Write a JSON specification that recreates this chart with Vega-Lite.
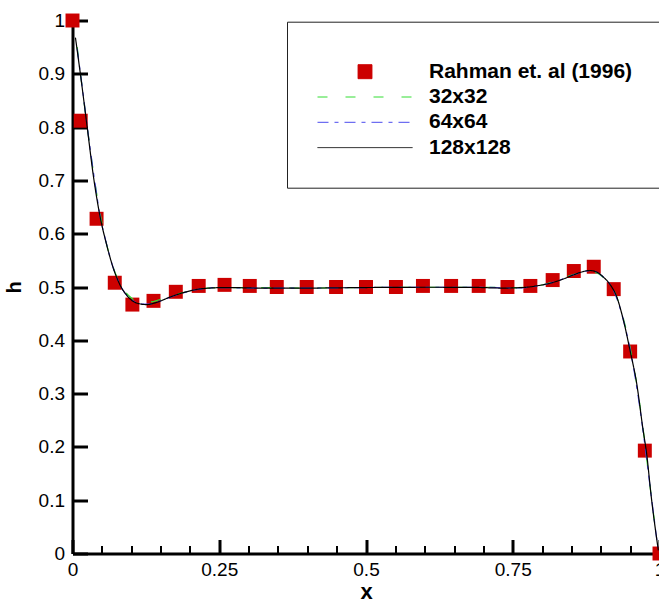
{
  "$schema": "https://vega.github.io/schema/vega-lite/v6.json",
  "width": 587,
  "height": 533,
  "autosize": {"type": "none"},
  "padding": {"left": 72.5, "top": 20.5, "right": 0, "bottom": 46.5},
  "background": "white",
  "config": {
    "view": {"stroke": null},
    "font": "Liberation Sans",
    "axis": {
      "grid": false,
      "domainColor": "black",
      "domainWidth": 3,
      "tickColor": "black",
      "labelFont": "Liberation Sans",
      "labelFontSize": 19,
      "labelColor": "black",
      "titleFont": "Liberation Sans",
      "titleFontWeight": "bold",
      "titleColor": "black"
    },
    "legend": {
      "titleFontSize": 8,
      "titlePadding": 2,
      "padding": 30,
      "strokeColor": "#222222",
      "fillColor": "white",
      "symbolSize": 9025,
      "symbolStrokeWidth": 1,
      "symbolOpacity": 1,
      "symbolOffset": 0,
      "clipHeight": 20,
      "rowPadding": 4.3,
      "labelOffset": 16,
      "labelFont": "Liberation Sans",
      "labelFontSize": 21,
      "labelFontWeight": "bold",
      "labelColor": "black",
      "labelLimit": 400
    }
  },
  "data": {
    "values": [
      {"series": "Rahman et. al (1996)", "x": 0.0, "h": 1.0},
      {"series": "Rahman et. al (1996)", "x": 0.014, "h": 0.812},
      {"series": "Rahman et. al (1996)", "x": 0.041, "h": 0.628},
      {"series": "Rahman et. al (1996)", "x": 0.072, "h": 0.508},
      {"series": "Rahman et. al (1996)", "x": 0.102, "h": 0.467},
      {"series": "Rahman et. al (1996)", "x": 0.138, "h": 0.474},
      {"series": "Rahman et. al (1996)", "x": 0.176, "h": 0.491},
      {"series": "Rahman et. al (1996)", "x": 0.215, "h": 0.502},
      {"series": "Rahman et. al (1996)", "x": 0.259, "h": 0.504},
      {"series": "Rahman et. al (1996)", "x": 0.302, "h": 0.502},
      {"series": "Rahman et. al (1996)", "x": 0.348, "h": 0.5},
      {"series": "Rahman et. al (1996)", "x": 0.399, "h": 0.5},
      {"series": "Rahman et. al (1996)", "x": 0.449, "h": 0.5},
      {"series": "Rahman et. al (1996)", "x": 0.5, "h": 0.5},
      {"series": "Rahman et. al (1996)", "x": 0.551, "h": 0.5},
      {"series": "Rahman et. al (1996)", "x": 0.597, "h": 0.502},
      {"series": "Rahman et. al (1996)", "x": 0.645, "h": 0.502},
      {"series": "Rahman et. al (1996)", "x": 0.692, "h": 0.502},
      {"series": "Rahman et. al (1996)", "x": 0.741, "h": 0.5},
      {"series": "Rahman et. al (1996)", "x": 0.78, "h": 0.502},
      {"series": "Rahman et. al (1996)", "x": 0.818, "h": 0.513},
      {"series": "Rahman et. al (1996)", "x": 0.854, "h": 0.53},
      {"series": "Rahman et. al (1996)", "x": 0.888, "h": 0.538},
      {"series": "Rahman et. al (1996)", "x": 0.922, "h": 0.496},
      {"series": "Rahman et. al (1996)", "x": 0.95, "h": 0.379},
      {"series": "Rahman et. al (1996)", "x": 0.975, "h": 0.193},
      {"series": "Rahman et. al (1996)", "x": 1.0, "h": 0.0},

      {"series": "32x32", "x": 0.008, "h": 0.95},
      {"series": "32x32", "x": 0.024, "h": 0.81},
      {"series": "32x32", "x": 0.039, "h": 0.69},
      {"series": "32x32", "x": 0.055, "h": 0.595},
      {"series": "32x32", "x": 0.07, "h": 0.535},
      {"series": "32x32", "x": 0.086, "h": 0.497},
      {"series": "32x32", "x": 0.102, "h": 0.478},
      {"series": "32x32", "x": 0.117, "h": 0.472},
      {"series": "32x32", "x": 0.133, "h": 0.472},
      {"series": "32x32", "x": 0.148, "h": 0.476},
      {"series": "32x32", "x": 0.18, "h": 0.487},
      {"series": "32x32", "x": 0.211, "h": 0.495},
      {"series": "32x32", "x": 0.25, "h": 0.499},
      {"series": "32x32", "x": 0.3, "h": 0.499},
      {"series": "32x32", "x": 0.4, "h": 0.498},
      {"series": "32x32", "x": 0.5, "h": 0.499},
      {"series": "32x32", "x": 0.6, "h": 0.4995},
      {"series": "32x32", "x": 0.7, "h": 0.4995},
      {"series": "32x32", "x": 0.75, "h": 0.499},
      {"series": "32x32", "x": 0.78, "h": 0.5},
      {"series": "32x32", "x": 0.797, "h": 0.503},
      {"series": "32x32", "x": 0.813, "h": 0.508},
      {"series": "32x32", "x": 0.828, "h": 0.514},
      {"series": "32x32", "x": 0.844, "h": 0.52},
      {"series": "32x32", "x": 0.86, "h": 0.525},
      {"series": "32x32", "x": 0.875, "h": 0.528},
      {"series": "32x32", "x": 0.891, "h": 0.527},
      {"series": "32x32", "x": 0.906, "h": 0.516},
      {"series": "32x32", "x": 0.922, "h": 0.495},
      {"series": "32x32", "x": 0.938, "h": 0.443},
      {"series": "32x32", "x": 0.953, "h": 0.37},
      {"series": "32x32", "x": 0.969, "h": 0.26},
      {"series": "32x32", "x": 0.984, "h": 0.125},
      {"series": "32x32", "x": 0.995, "h": 0.03},

      {"series": "64x64", "x": 0.008, "h": 0.947},
      {"series": "64x64", "x": 0.016, "h": 0.88},
      {"series": "64x64", "x": 0.03, "h": 0.76},
      {"series": "64x64", "x": 0.039, "h": 0.69},
      {"series": "64x64", "x": 0.047, "h": 0.633},
      {"series": "64x64", "x": 0.055, "h": 0.594},
      {"series": "64x64", "x": 0.07, "h": 0.534},
      {"series": "64x64", "x": 0.086, "h": 0.494},
      {"series": "64x64", "x": 0.101, "h": 0.476},
      {"series": "64x64", "x": 0.117, "h": 0.468},
      {"series": "64x64", "x": 0.133, "h": 0.468},
      {"series": "64x64", "x": 0.148, "h": 0.473},
      {"series": "64x64", "x": 0.18, "h": 0.486},
      {"series": "64x64", "x": 0.211, "h": 0.495},
      {"series": "64x64", "x": 0.25, "h": 0.499},
      {"series": "64x64", "x": 0.3, "h": 0.498},
      {"series": "64x64", "x": 0.4, "h": 0.498},
      {"series": "64x64", "x": 0.5, "h": 0.499},
      {"series": "64x64", "x": 0.6, "h": 0.4995},
      {"series": "64x64", "x": 0.7, "h": 0.4994},
      {"series": "64x64", "x": 0.75, "h": 0.498},
      {"series": "64x64", "x": 0.78, "h": 0.4998},
      {"series": "64x64", "x": 0.797, "h": 0.503},
      {"series": "64x64", "x": 0.813, "h": 0.507},
      {"series": "64x64", "x": 0.828, "h": 0.512},
      {"series": "64x64", "x": 0.844, "h": 0.519},
      {"series": "64x64", "x": 0.86, "h": 0.525},
      {"series": "64x64", "x": 0.875, "h": 0.53},
      {"series": "64x64", "x": 0.883, "h": 0.531},
      {"series": "64x64", "x": 0.891, "h": 0.529},
      {"series": "64x64", "x": 0.906, "h": 0.517},
      {"series": "64x64", "x": 0.922, "h": 0.493},
      {"series": "64x64", "x": 0.938, "h": 0.44},
      {"series": "64x64", "x": 0.953, "h": 0.366},
      {"series": "64x64", "x": 0.969, "h": 0.254},
      {"series": "64x64", "x": 0.984, "h": 0.125},
      {"series": "64x64", "x": 0.997, "h": 0.012},

      {"series": "128x128", "x": 0.005, "h": 0.968},
      {"series": "128x128", "x": 0.014, "h": 0.895},
      {"series": "128x128", "x": 0.025, "h": 0.8},
      {"series": "128x128", "x": 0.036, "h": 0.705},
      {"series": "128x128", "x": 0.047, "h": 0.632},
      {"series": "128x128", "x": 0.058, "h": 0.58},
      {"series": "128x128", "x": 0.069, "h": 0.537},
      {"series": "128x128", "x": 0.08, "h": 0.506},
      {"series": "128x128", "x": 0.092, "h": 0.485},
      {"series": "128x128", "x": 0.109, "h": 0.47},
      {"series": "128x128", "x": 0.126, "h": 0.467},
      {"series": "128x128", "x": 0.143, "h": 0.471},
      {"series": "128x128", "x": 0.166, "h": 0.481},
      {"series": "128x128", "x": 0.194, "h": 0.491},
      {"series": "128x128", "x": 0.222, "h": 0.497},
      {"series": "128x128", "x": 0.262, "h": 0.499},
      {"series": "128x128", "x": 0.32, "h": 0.498},
      {"series": "128x128", "x": 0.4, "h": 0.498},
      {"series": "128x128", "x": 0.5, "h": 0.499},
      {"series": "128x128", "x": 0.6, "h": 0.4995},
      {"series": "128x128", "x": 0.677, "h": 0.4994},
      {"series": "128x128", "x": 0.734, "h": 0.498},
      {"series": "128x128", "x": 0.773, "h": 0.4995},
      {"series": "128x128", "x": 0.79, "h": 0.502},
      {"series": "128x128", "x": 0.813, "h": 0.507},
      {"series": "128x128", "x": 0.836, "h": 0.515},
      {"series": "128x128", "x": 0.853, "h": 0.5225},
      {"series": "128x128", "x": 0.87, "h": 0.529},
      {"series": "128x128", "x": 0.881, "h": 0.531},
      {"series": "128x128", "x": 0.893, "h": 0.528},
      {"series": "128x128", "x": 0.904, "h": 0.519},
      {"series": "128x128", "x": 0.9155, "h": 0.505},
      {"series": "128x128", "x": 0.927, "h": 0.482},
      {"series": "128x128", "x": 0.938, "h": 0.44},
      {"series": "128x128", "x": 0.95, "h": 0.38},
      {"series": "128x128", "x": 0.961, "h": 0.32},
      {"series": "128x128", "x": 0.972, "h": 0.232},
      {"series": "128x128", "x": 0.978, "h": 0.188},
      {"series": "128x128", "x": 0.986, "h": 0.106},
      {"series": "128x128", "x": 0.998, "h": 0.006}
    ]
  },
  "encoding": {
    "x": {
      "field": "x",
      "type": "quantitative",
      "scale": {"domain": [0, 1], "nice": false, "zero": false},
      "axis": {
        "title": "x",
        "titleFontSize": 22,
        "titlePadding": -4,
        "values": [0, 0.05, 0.1, 0.15, 0.2, 0.25, 0.3, 0.35, 0.4, 0.45, 0.5, 0.55, 0.6, 0.65, 0.7, 0.75, 0.8, 0.85, 0.9, 0.95, 1],
        "labelExpr": "indexof([0, 0.25, 0.5, 0.75, 1], datum.value) >= 0 ? datum.value + '' : ''",
        "tickSize": {"condition": {"test": "indexof([0, 0.25, 0.5, 0.75, 1], datum.value) >= 0", "value": -14}, "value": -8},
        "tickWidth": {"condition": {"test": "indexof([0, 0.25, 0.5, 0.75, 1], datum.value) >= 0", "value": 3}, "value": 2},
        "labelPadding": 21,
        "labelFlush": false,
        "labelOverlap": false
      }
    },
    "y": {
      "field": "h",
      "type": "quantitative",
      "scale": {"domain": [0, 1], "nice": false, "zero": false},
      "axis": {
        "title": "h",
        "titleFontSize": 20,
        "titlePadding": 14,
        "values": [0, 0.1, 0.2, 0.3, 0.4, 0.5, 0.6, 0.7, 0.8, 0.9, 1],
        "labelExpr": "datum.value + ''",
        "tickSize": -15,
        "tickWidth": 3,
        "labelPadding": 23,
        "labelFlush": false,
        "labelOverlap": false
      }
    },
    "color": {
      "field": "series",
      "type": "nominal",
      "scale": {
        "domain": ["Rahman et. al (1996)", "32x32", "64x64", "128x128"],
        "range": ["#cc0000", "#33dd33", "#4a4aee", "#000000"]
      },
      "legend": {"title": " ", "orient": "none", "legendX": 214.5, "legendY": 1.2}
    }
  },
  "layer": [
    {
      "transform": [{"filter": "datum.series === 'Rahman et. al (1996)'"}],
      "mark": {"type": "point", "filled": true, "size": 9025, "opacity": 1, "strokeWidth": 0},
      "encoding": {
        "shape": {
          "field": "series",
          "type": "nominal",
          "scale": {
            "domain": ["Rahman et. al (1996)", "32x32", "64x64", "128x128"],
            "range": ["M-0.147,-0.147H0.147V0.147H-0.147Z", "stroke", "stroke", "stroke"]
          },
          "legend": {"title": " ", "orient": "none", "legendX": 214.5, "legendY": 1.2}
        }
      }
    },
    {
      "transform": [{"filter": "datum.series !== 'Rahman et. al (1996)'"}],
      "mark": {"type": "line", "strokeWidth": 1.2, "interpolate": "monotone"},
      "encoding": {
        "strokeDash": {
          "field": "series",
          "type": "nominal",
          "scale": {
            "domain": ["Rahman et. al (1996)", "32x32", "64x64", "128x128"],
            "range": [[1, 0], [10, 18], [11, 6, 4, 6], [1, 0]]
          },
          "legend": {"title": " ", "orient": "none", "legendX": 214.5, "legendY": 1.2}
        }
      }
    }
  ]
}
